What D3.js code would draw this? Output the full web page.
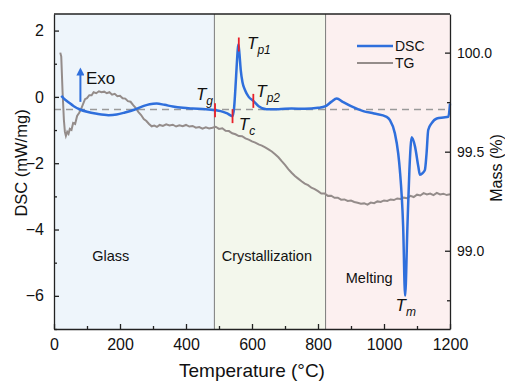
<!DOCTYPE html>
<html>
<head>
<meta charset="utf-8">
<script src="https://cdn.jsdelivr.net/npm/d3@7"></script>
<style>
  body { margin: 0; background: #fff; }
  svg text { font-family: "Liberation Sans", Arial, sans-serif; fill: #111; }
</style>
</head>
<body>
<svg id="chart" width="505" height="383"></svg>
<script>
// DSC curve: [temperature °C, mW/mg]
const dscData = [
  [22, 0.03], [30, -0.05], [45, -0.17], [60, -0.28], [79, -0.38], [100, -0.45], [130, -0.51],
  [165, -0.55], [190, -0.53], [215, -0.47], [245, -0.38], [270, -0.28], [290, -0.22], [311, -0.2],
  [335, -0.24], [360, -0.29], [391, -0.33], [420, -0.35], [460, -0.37], [488, -0.4], [505, -0.43],
  [525, -0.5], [541, -0.58], [546, -0.3], [550, 0.3], [554, 1.0], [557, 1.45], [559, 1.58],
  [562, 1.3], [566, 0.8], [571, 0.45], [579, 0.2], [590, 0.0], [604, -0.12], [620, -0.28],
  [644, -0.37], [680, -0.37], [720, -0.35], [760, -0.36], [800, -0.33], [823, -0.28], [840, -0.15],
  [857, -0.05], [875, -0.15], [900, -0.28], [937, -0.43], [970, -0.5], [1008, -0.6], [1018, -0.7],
  [1033, -1.1], [1043, -1.7], [1048, -2.2], [1058, -3.9], [1064, -6.0], [1071, -3.9], [1077, -2.2],
  [1084, -1.22], [1094, -1.5], [1104, -2.1], [1109, -2.35], [1117, -2.3], [1124, -2.2], [1129, -1.7],
  [1134, -1.0], [1144, -0.8], [1160, -0.65], [1180, -0.62], [1195, -0.6], [1200, -0.2]
];

// TG curve: [temperature °C, mass %]
const tgData = [
  [19, 100.0], [22, 99.98], [26, 99.8], [30, 99.66], [33, 99.6], [36, 99.58], [40, 99.6], [44, 99.59],
  [48, 99.615], [53, 99.61], [58, 99.645], [64, 99.64], [70, 99.68], [76, 99.695], [82, 99.715],
  [88, 99.74], [94, 99.765], [100, 99.77], [107, 99.785], [114, 99.785], [120, 99.8], [128, 99.795],
  [136, 99.805], [144, 99.8], [152, 99.803], [160, 99.795], [168, 99.8], [176, 99.788], [184, 99.792],
  [192, 99.78], [200, 99.782], [208, 99.77], [216, 99.768], [224, 99.755], [232, 99.752], [240, 99.735],
  [248, 99.72], [256, 99.7], [264, 99.685], [272, 99.665], [280, 99.655], [288, 99.64], [296, 99.628],
  [304, 99.632], [312, 99.625], [320, 99.635], [330, 99.63], [340, 99.638], [350, 99.632], [360, 99.636],
  [370, 99.627], [380, 99.633], [390, 99.629], [400, 99.635], [410, 99.627], [420, 99.63], [430, 99.621],
  [440, 99.624], [450, 99.616], [460, 99.623], [470, 99.617], [480, 99.621], [490, 99.626], [500, 99.615],
  [510, 99.618], [520, 99.606], [530, 99.604], [540, 99.593], [550, 99.588], [560, 99.579], [570, 99.578],
  [580, 99.567], [590, 99.561], [600, 99.552], [610, 99.546], [620, 99.537], [630, 99.531], [640, 99.522],
  [650, 99.512], [660, 99.501], [670, 99.487], [680, 99.472], [690, 99.452], [700, 99.433], [710, 99.412],
  [720, 99.394], [730, 99.377], [740, 99.364], [750, 99.351], [760, 99.339], [770, 99.331], [780, 99.318],
  [790, 99.311], [800, 99.301], [810, 99.289], [820, 99.289], [830, 99.277], [840, 99.278], [850, 99.267],
  [860, 99.268], [870, 99.258], [880, 99.259], [890, 99.251], [900, 99.253], [910, 99.246], [920, 99.242],
  [930, 99.237], [940, 99.239], [950, 99.233], [960, 99.243], [970, 99.24], [980, 99.249], [990, 99.246],
  [1000, 99.254], [1010, 99.251], [1020, 99.259], [1030, 99.256], [1040, 99.264], [1050, 99.261],
  [1060, 99.268], [1070, 99.265], [1080, 99.277], [1090, 99.271], [1100, 99.283], [1110, 99.279],
  [1120, 99.291], [1130, 99.284], [1140, 99.289], [1150, 99.281], [1160, 99.292], [1170, 99.284],
  [1180, 99.288], [1190, 99.281], [1200, 99.285]
];

// regions and marks
const regionNames = ["Glass", "Crystallization", "Melting"];
const regionBounds = [[0, 486], [486, 823], [823, 1200]];
const regionColors = ["#eef5fb", "#f3f7ec", "#fcf0f0"];
const markTemps = [488, 541, 560, 604];
const baselineDSC = -0.38;

const xTicks = [0, 200, 400, 600, 800, 1000, 1200];
const yTicks = [2, 0, -2, -4, -6];
const y2Ticks = [100.0, 99.5, 99.0];

let margin = {left: 54, right: 55, top: 14, bottom: 54};
let width = 505 - margin.left - margin.right;
let height = 383 - margin.top - margin.bottom;

let svg = d3.select("#chart");
let chart = svg.append("g")
  .attr("transform", `translate(${margin.left}, ${margin.top})`);

let xScale = d3.scaleLinear().domain([0, 1200]).range([0, width]);
let yScale = d3.scaleLinear().domain([-7, 2.5]).range([height, 0]);
let y2Scale = d3.scaleLinear().domain([98.605, 100.195]).range([height, 0]);

/// background regions ///
chart.selectAll(".region")
  .data(regionBounds)
  .enter()
  .append("rect")
  .attr("x", d => xScale(d[0]))
  .attr("width", d => xScale(d[1]) - xScale(d[0]))
  .attr("y", 0)
  .attr("height", height)
  .attr("fill", (d, i) => regionColors[i]);

chart.selectAll(".divider")
  .data(regionBounds.slice(1))
  .enter()
  .append("line")
  .attr("x1", d => xScale(d[0])).attr("x2", d => xScale(d[0]))
  .attr("y1", 0).attr("y2", height)
  .attr("stroke", "#7a7a7a").attr("stroke-width", 1);

/// region labels ///
const regionLabelT = [172, 645, 955];
const regionLabelY = [-4.95, -4.95, -5.62];
chart.selectAll(".regionLabel")
  .data(regionNames)
  .enter()
  .append("text")
  .attr("x", (d, i) => xScale(regionLabelT[i]))
  .attr("y", (d, i) => yScale(regionLabelY[i]))
  .attr("text-anchor", "middle")
  .style("font-size", "14.5px")
  .text(d => d);

/// dashed baseline ///
chart.append("line")
  .attr("x1", 0).attr("x2", width)
  .attr("y1", yScale(baselineDSC)).attr("y2", yScale(baselineDSC))
  .attr("stroke", "#9a9a9a").attr("stroke-width", 1.5)
  .attr("stroke-dasharray", "7,5");

/// TG line ///
chart.append("path")
  .datum(tgData)
  .attr("fill", "none")
  .attr("stroke", "#948c8a")
  .attr("stroke-width", 2)
  .attr("d", d3.line().x(d => xScale(d[0])).y(d => y2Scale(d[1])));

/// DSC line ///
chart.append("path")
  .datum(dscData)
  .attr("fill", "none")
  .attr("stroke", "#2f6fdc")
  .attr("stroke-width", 2.5)
  .attr("stroke-linejoin", "round")
  .attr("d", d3.line().x(d => xScale(d[0])).y(d => yScale(d[1])).curve(d3.curveMonotoneX));

/// red markers ///
const dscAt = t => {
  let i = d3.bisector(d => d[0]).left(dscData, t);
  let a = dscData[Math.max(0, i - 1)], b = dscData[Math.min(dscData.length - 1, i)];
  if (a[0] === b[0]) return a[1];
  return a[1] + (b[1] - a[1]) * (t - a[0]) / (b[0] - a[0]);
};
chart.selectAll(".mark")
  .data(markTemps)
  .enter()
  .append("line")
  .attr("x1", d => xScale(d)).attr("x2", d => xScale(d))
  .attr("y1", (d, i) => yScale(i == 2 ? 1.58 : dscAt(d)) - 7)
  .attr("y2", (d, i) => yScale(i == 2 ? 1.58 : dscAt(d)) + 7)
  .attr("stroke", "#e8202a").attr("stroke-width", 1.8);

/// T labels ///
const tLabelPos = [[430, -0.08], [560, -1.0], [585, 1.45], [613, 0.0], [1035, -6.45]];
const tLabelSubs = ["g", "c", "p1", "p2", "m"];
tLabelSubs.forEach((s, i) => {
  let t = chart.append("text")
    .attr("x", xScale(tLabelPos[i][0]))
    .attr("y", yScale(tLabelPos[i][1]))
    .style("font-size", "17px")
    .style("font-style", "italic");
  t.append("tspan").text("T");
  t.append("tspan").attr("dy", 5).style("font-size", "12px").text(s);
});

/// Exo arrow ///
chart.append("defs").append("marker")
  .attr("id", "arrowhead")
  .attr("viewBox", "0 0 10 10")
  .attr("refX", 3).attr("refY", 5)
  .attr("markerWidth", 4.6).attr("markerHeight", 4)
  .attr("orient", "auto")
  .append("path").attr("d", "M0,0 L10,5 L0,10 Z").attr("fill", "#2f6fdc");
chart.append("line")
  .attr("x1", xScale(80)).attr("x2", xScale(80))
  .attr("y1", yScale(-0.15)).attr("y2", yScale(0.72))
  .attr("stroke", "#2f6fdc").attr("stroke-width", 2)
  .attr("marker-end", "url(#arrowhead)");
chart.append("text")
  .attr("x", xScale(97)).attr("y", yScale(0.4))
  .style("font-size", "17px")
  .text("Exo");

/// legend ///
const legendItems = [["DSC", "#2f6fdc", 2.5], ["TG", "#948c8a", 2]];
legendItems.forEach((d, i) => {
  chart.append("line")
    .attr("x1", 303).attr("x2", 339)
    .attr("y1", 32 + i * 17).attr("y2", 32 + i * 17)
    .attr("stroke", d[1]).attr("stroke-width", d[2]);
  chart.append("text")
    .attr("x", 341).attr("y", 37 + i * 17)
    .style("font-size", "14px")
    .text(d[0]);
});

/// axes ///
chart.append("g")
  .attr("transform", `translate(0, ${height})`)
  .call(d3.axisBottom(xScale).tickValues(xTicks).tickSizeInner(-5).tickSizeOuter(0).tickPadding(10).tickFormat(d3.format("d")))
  .call(g => g.selectAll(".tick text").style("font-size", "16px"));
chart.append("g")
  .attr("transform", `translate(0, ${height})`)
  .call(d3.axisBottom(xScale).tickValues(d3.range(100, 1200, 200)).tickSize(-3).tickFormat(""))
  .call(g => g.select(".domain").remove());

chart.append("g")
  .call(d3.axisLeft(yScale).tickValues(yTicks).tickSizeInner(-5).tickSizeOuter(0).tickPadding(10).tickFormat(d3.format("d")))
  .call(g => g.selectAll(".tick text").style("font-size", "16px"));
chart.append("g")
  .call(d3.axisLeft(yScale).tickValues([1, -1, -3, -5, -7]).tickSize(-3).tickFormat(""))
  .call(g => g.select(".domain").remove());

chart.append("g")
  .attr("transform", `translate(${width}, 0)`)
  .call(d3.axisRight(y2Scale).tickValues(y2Ticks).tickSizeInner(-5).tickSizeOuter(0).tickPadding(7).tickFormat(d3.format(".1f")))
  .call(g => g.selectAll(".tick text").style("font-size", "14px"));
chart.append("g")
  .attr("transform", `translate(${width}, 0)`)
  .call(d3.axisRight(y2Scale).tickValues([99.75, 98.75]).tickSize(-3).tickFormat(""))
  .call(g => g.select(".domain").remove());

// top frame line
chart.append("line")
  .attr("x1", 0).attr("x2", width).attr("y1", 0).attr("y2", 0)
  .attr("stroke", "#222").attr("stroke-width", 1.3);

chart.selectAll(".domain, .tick line").attr("stroke", "#222").attr("stroke-width", 1.3);

/// axis titles ///
chart.append("text")
  .attr("transform", "rotate(-90)")
  .attr("x", -149)
  .attr("y", -27)
  .attr("text-anchor", "middle")
  .style("font-size", "16.5px")
  .text("DSC (mW/mg)");

chart.append("text")
  .attr("transform", "rotate(-90)")
  .attr("x", -154)
  .attr("y", width + 52)
  .attr("text-anchor", "middle")
  .style("font-size", "16px")
  .text("Mass (%)");

chart.append("text")
  .attr("x", width / 2)
  .attr("y", height + 48)
  .attr("text-anchor", "middle")
  .style("font-size", "19px")
  .text("Temperature (°C)");
</script>
</body>
</html>
